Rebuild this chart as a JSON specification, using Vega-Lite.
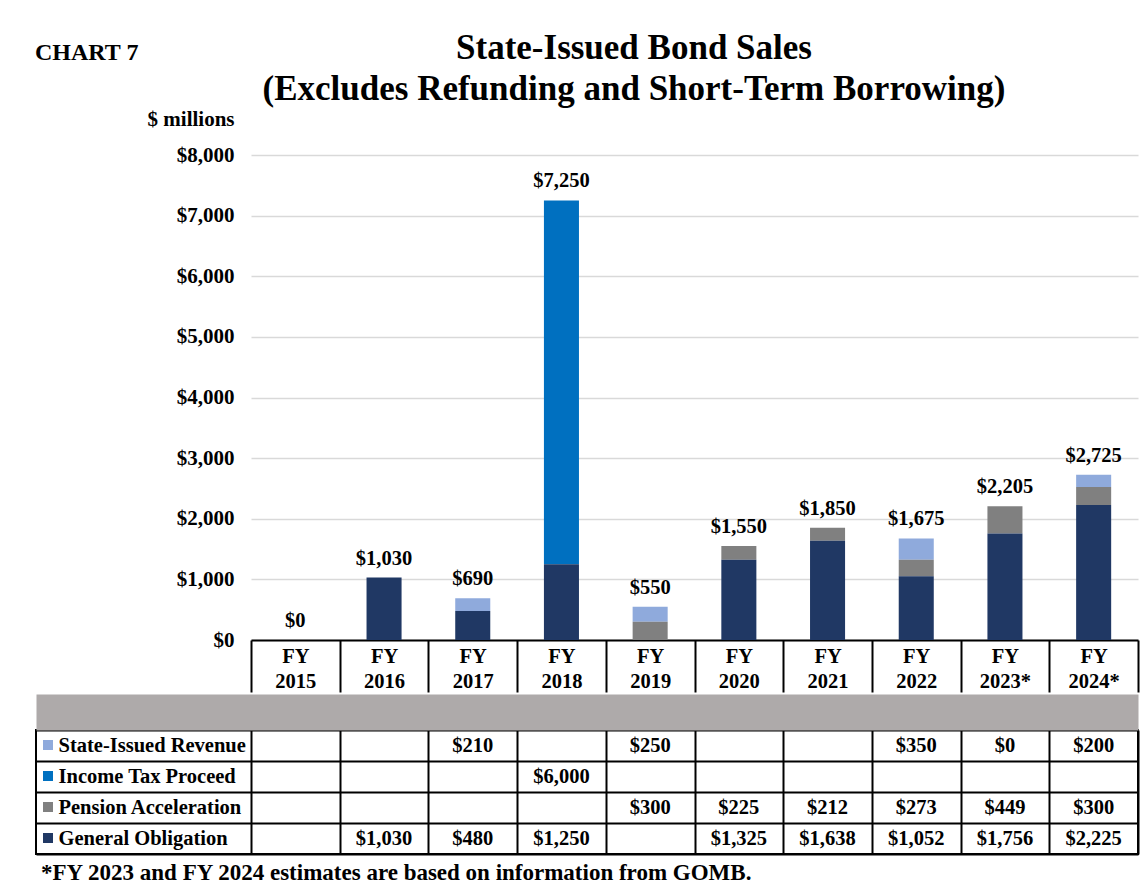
{
  "$schema": "https://vega.github.io/schema/vega-lite/v6.json",
  "background": "white",
  "padding": {"left": 35, "right": 9, "top": 31, "bottom": 0},
  "config": {
    "font": "Liberation Serif",
    "view": {"stroke": null},
    "axis": {"labelFont": "Liberation Serif", "titleFont": "Liberation Serif", "labelColor": "black", "titleColor": "black", "labelFontWeight": "bold", "titleFontWeight": "bold"},
    "title": {"font": "Liberation Serif", "color": "black", "fontWeight": "bold"},
    "legend": {"labelFont": "Liberation Serif"}
  },
  "datasets": {
    "sales": [
      {"year": "FY 2016", "series": "General Obligation", "value": 1030},
      {"year": "FY 2017", "series": "State-Issued Revenue", "value": 210},
      {"year": "FY 2017", "series": "General Obligation", "value": 480},
      {"year": "FY 2018", "series": "Income Tax Proceed", "value": 6000},
      {"year": "FY 2018", "series": "General Obligation", "value": 1250},
      {"year": "FY 2019", "series": "State-Issued Revenue", "value": 250},
      {"year": "FY 2019", "series": "Pension Acceleration", "value": 300},
      {"year": "FY 2020", "series": "Pension Acceleration", "value": 225},
      {"year": "FY 2020", "series": "General Obligation", "value": 1325},
      {"year": "FY 2021", "series": "Pension Acceleration", "value": 212},
      {"year": "FY 2021", "series": "General Obligation", "value": 1638},
      {"year": "FY 2022", "series": "State-Issued Revenue", "value": 350},
      {"year": "FY 2022", "series": "Pension Acceleration", "value": 273},
      {"year": "FY 2022", "series": "General Obligation", "value": 1052},
      {"year": "FY 2023*", "series": "State-Issued Revenue", "value": 0},
      {"year": "FY 2023*", "series": "Pension Acceleration", "value": 449},
      {"year": "FY 2023*", "series": "General Obligation", "value": 1756},
      {"year": "FY 2024*", "series": "State-Issued Revenue", "value": 200},
      {"year": "FY 2024*", "series": "Pension Acceleration", "value": 300},
      {"year": "FY 2024*", "series": "General Obligation", "value": 2225}
    ],
    "totals": [
      {"year": "FY 2015", "value": 0},
      {"year": "FY 2016", "value": 1030},
      {"year": "FY 2017", "value": 690},
      {"year": "FY 2018", "value": 7250},
      {"year": "FY 2019", "value": 550},
      {"year": "FY 2020", "value": 1550},
      {"year": "FY 2021", "value": 1850},
      {"year": "FY 2022", "value": 1675},
      {"year": "FY 2023*", "value": 2205},
      {"year": "FY 2024*", "value": 2725}
    ]
  },
  "title": {"text": "CHART 7", "anchor": "start", "frame": "bounds", "fontSize": 24, "offset": -34},
  "resolve": {"scale": {"color": "independent"}, "legend": {"color": "independent"}},
  "spacing": 0,
  "vconcat": [
    {
      "width": 1102,
      "height": 485,
      "title": {"text": ["State-Issued Bond Sales", "(Excludes Refunding and Short-Term Borrowing)"], "anchor": "middle", "frame": "group", "fontSize": 35, "lineHeight": 41, "dx": 47, "offset": 1},
      "encoding": {
        "x": {
          "field": "year", "type": "nominal", "title": null,
          "scale": {"domain": ["FY 2015", "FY 2016", "FY 2017", "FY 2018", "FY 2019", "FY 2020", "FY 2021", "FY 2022", "FY 2023*", "FY 2024*"], "range": [215, 1102], "paddingInner": 0, "paddingOuter": 0},
          "axis": {"labelExpr": "split(datum.label, ' ')", "labelFontSize": 20.5, "labelLineHeight": 25, "labelPadding": -46, "labelAngle": 0, "labelBaseline": "top", "tickBand": "extent", "ticks": true, "tickSize": 52, "tickWidth": 2, "tickColor": "black", "domain": true, "domainColor": "black", "domainWidth": 2, "grid": false, "title": null}
        },
        "y": {
          "field": "value", "type": "quantitative",
          "scale": {"domain": [0, 8000]},
          "axis": {"values": [0, 1000, 2000, 3000, 4000, 5000, 6000, 7000, 8000], "format": "$,d", "labelFontSize": 21, "labelAlign": "right", "labelPadding": -198, "domain": false, "ticks": false, "grid": true, "gridColor": "#D9D9D9", "gridWidth": 1.5, "title": "$ millions", "titleAngle": 0, "titleAlign": "right", "titleBaseline": "alphabetic", "titleX": 198, "titleY": -30, "titleFontSize": 21}
        }
      },
      "layer": [
        {
          "data": {"name": "sales"},
          "mark": {"type": "bar", "width": {"band": 0.395}},
          "encoding": {
            "color": {"field": "series", "type": "nominal", "scale": {"domain": ["State-Issued Revenue", "Income Tax Proceed", "Pension Acceleration", "General Obligation"], "range": ["#8FAADC", "#0070C0", "#808080", "#203864"]}, "legend": null},
            "order": {"field": "series", "sort": "ascending"}
          }
        },
        {
          "data": {"name": "totals"},
          "mark": {"type": "text", "fontSize": 20.5, "fontWeight": "bold", "baseline": "alphabetic", "dy": -13, "color": "black"},
          "encoding": {"text": {"field": "value", "format": "$,d"}}
        }
      ]
    },
    {
      "width": 1102,
      "height": 124,
      "view": {"stroke": "black", "strokeWidth": 2},
      "data": {"name": "sales"},
      "title": {"text": "*FY 2023 and FY 2024 estimates are based on information from GOMB.", "orient": "bottom", "anchor": "start", "frame": "group", "fontSize": 23, "dx": 5, "offset": 8},
      "encoding": {
        "y": {
          "field": "series", "type": "nominal", "title": null,
          "scale": {"domain": ["State-Issued Revenue", "Income Tax Proceed", "Pension Acceleration", "General Obligation"], "paddingInner": 0, "paddingOuter": 0},
          "axis": {"grid": true, "tickBand": "extent", "gridColor": "black", "gridWidth": 2, "labelAlign": "left", "labelPadding": -22, "labelFontSize": 20.5, "labelLimit": 0, "ticks": false, "domain": false, "title": null}
        }
      },
      "layer": [
        {
          "mark": {"type": "text", "fontSize": 20.5, "fontWeight": "bold", "color": "black"},
          "encoding": {
            "x": {
              "field": "year", "type": "nominal", "title": null,
              "scale": {"domain": [" ", "FY 2015", "FY 2016", "FY 2017", "FY 2018", "FY 2019", "FY 2020", "FY 2021", "FY 2022", "FY 2023*", "FY 2024*"], "paddingInner": 0, "paddingOuter": 0.712, "align": 1},
              "axis": {"orient": "top", "values": ["FY 2015", "FY 2016", "FY 2017", "FY 2018", "FY 2019", "FY 2020", "FY 2021", "FY 2022", "FY 2023*", "FY 2024*"], "grid": true, "tickBand": "extent", "gridColor": "black", "gridWidth": 2, "labels": false, "ticks": false, "domain": true, "domainColor": "#AEAAAA", "domainWidth": 36, "offset": 18, "minExtent": 18, "maxExtent": 18, "title": null}
            },
            "text": {"field": "value", "format": "$,d"}
          }
        },
        {
          "mark": {"type": "square", "size": 0},
          "encoding": {
            "color": {"field": "series", "type": "nominal", "scale": {"domain": ["State-Issued Revenue", "Income Tax Proceed", "Pension Acceleration", "General Obligation"], "range": ["#8FAADC", "#0070C0", "#808080", "#203864"]},
              "legend": {"orient": "none", "legendX": 7, "legendY": 10, "direction": "vertical", "title": null, "symbolType": "square", "symbolSize": 100, "symbolStrokeWidth": 0, "symbolOpacity": 1, "labelExpr": "''", "labelFontSize": 1, "rowPadding": 21, "padding": 0, "offset": 0}}
          }
        }
      ]
    }
  ]
}
